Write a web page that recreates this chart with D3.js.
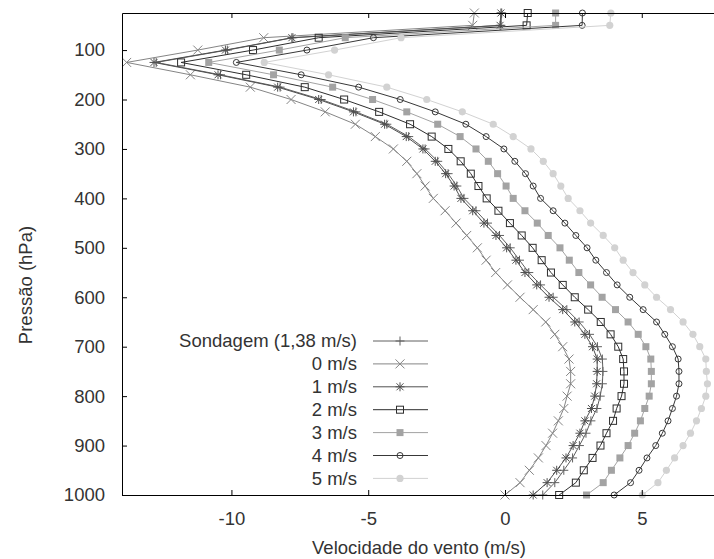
<!DOCTYPE html>
<html>
<head>
<meta charset="utf-8">
<script src="https://cdn.jsdelivr.net/npm/d3@7"></script>
<style>
  body { margin: 0; background: #fff; }
  svg { display: block; font-family: "Liberation Sans", Arial, sans-serif; }
  .axis text { font-size: 18.5px; fill: #333; }
  .axis path, .axis line { stroke: #000; }
</style>
</head>
<body>
<div id="chart"></div>
<script>
// níveis de pressão (hPa)
const niveis = [25, 50, 75, 100, 125, 150, 175, 200, 225, 250, 275, 300, 325, 350, 375, 400,
  425, 450, 475, 500, 525, 550, 575, 600, 625, 650, 675, 700, 725, 750, 775, 800,
  825, 850, 875, 900, 925, 950, 975, 1000];

const sondagem = [-0.12, -0.15, -7.75, -10.15, -12.75, -10.40, -8.22, -6.72, -5.45, -4.32, -3.52, -2.92,
  -2.46, -2.08, -1.76, -1.50, -1.06, -0.64, -0.20, 0.19, 0.53, 0.87, 1.30, 1.76, 2.26, 2.71, 3.09,
  3.38, 3.56, 3.58, 3.56, 3.48, 3.36, 3.14, 2.96, 2.72, 2.47, 2.15, 1.82, 1.38];
const v0 = [-1.12, -1.18, -8.82, -11.23, -13.83, -11.50, -9.31, -7.82, -6.57, -5.47, -4.74, -4.08,
  -3.59, -3.22, -2.92, -2.62, -2.19, -1.79, -1.40, -1.01, -0.69, -0.34, 0.09, 0.55, 1.03, 1.49, 1.82,
  2.11, 2.34, 2.40, 2.40, 2.27, 2.15, 1.95, 1.74, 1.50, 1.22, 0.89, 0.55, 0.00];
const v1 = [-0.15, -0.18, -7.79, -10.22, -12.83, -10.49, -8.31, -6.81, -5.54, -4.40, -3.61, -3.00,
  -2.55, -2.17, -1.86, -1.61, -1.18, -0.77, -0.33, 0.06, 0.40, 0.73, 1.16, 1.61, 2.11, 2.55, 2.92,
  3.20, 3.37, 3.37, 3.35, 3.28, 3.16, 2.92, 2.74, 2.49, 2.23, 1.89, 1.54, 1.03];
const v2 = [0.83, 0.79, -6.81, -9.21, -11.84, -9.46, -7.32, -5.88, -4.60, -3.47, -2.68, -2.07,
  -1.62, -1.25, -0.97, -0.67, -0.24, 0.18, 0.61, 1.01, 1.34, 1.68, 2.11, 2.55, 3.04, 3.50, 3.86,
  4.14, 4.32, 4.35, 4.35, 4.26, 4.08, 3.95, 3.71, 3.49, 3.20, 2.88, 2.59, 1.98];
const v3 = [1.85, 1.85, -5.84, -8.25, -10.83, -8.46, -6.30, -4.84, -3.59, -2.46, -1.64, -1.06,
  -0.61, -0.27, 0.04, 0.30, 0.73, 1.18, 1.58, 2.01, 2.35, 2.70, 3.13, 3.55, 4.04, 4.50, 4.87,
  5.15, 5.33, 5.35, 5.35, 5.27, 5.11, 4.95, 4.74, 4.50, 4.20, 3.89, 3.59, 2.98];
const v4 = [2.83, 2.82, -4.81, -7.24, -9.82, -7.45, -5.35, -3.83, -2.55, -1.43, -0.69, -0.04,
  0.36, 0.75, 1.03, 1.30, 1.76, 2.19, 2.59, 3.00, 3.32, 3.71, 4.10, 4.56, 5.05, 5.54, 5.84,
  6.12, 6.33, 6.36, 6.36, 6.27, 6.12, 5.96, 5.75, 5.51, 5.19, 4.90, 4.59, 3.99];
const v5 = [3.87, 3.83, -3.80, -6.23, -8.80, -6.45, -4.32, -2.86, -1.56, -0.43, 0.30, 0.95,
  1.40, 1.76, 2.04, 2.31, 2.74, 3.13, 3.59, 4.01, 4.32, 4.68, 5.11, 5.54, 6.05, 6.51, 6.87,
  7.12, 7.34, 7.36, 7.40, 7.34, 7.18, 7.00, 6.78, 6.51, 6.20, 5.90, 5.59, 5.02];

const rotulos = ['Sondagem (1,38 m/s)', '0 m/s', '1 m/s', '2 m/s', '3 m/s', '4 m/s', '5 m/s'];
const xTicks = [-10, -5, 0, 5];
const yTicks = [100, 200, 300, 400, 500, 600, 700, 800, 900, 1000];

const series = [
  { nome: rotulos[0], valores: sondagem, cor: '#606060', ponto: 'plus' },
  { nome: rotulos[1], valores: v0, cor: '#858585', ponto: 'cross' },
  { nome: rotulos[2], valores: v1, cor: '#505050', ponto: 'star' },
  { nome: rotulos[3], valores: v2, cor: '#2e2e2e', ponto: 'box' },
  { nome: rotulos[4], valores: v3, cor: '#a3a3a3', ponto: 'fbox' },
  { nome: rotulos[5], valores: v4, cor: '#383838', ponto: 'circle' },
  { nome: rotulos[6], valores: v5, cor: '#d2d2d2', ponto: 'fcircle' }
];

const W = 714, H = 559;
const svg = d3.select('#chart').append('svg').attr('width', W).attr('height', H);

const x = d3.scaleLinear().domain([-14, 7.64]).range([122, 714]);
const y = d3.scaleLinear().domain([25, 1000]).range([13, 495]);

// desenha um marcador no estilo do gnuplot
function marcador(g, tipo, cx, cy, cor) {
  const s = 4.5;
  if (tipo === 'plus' || tipo === 'star') {
    g.append('path').attr('d', `M${cx - s},${cy}H${cx + s}M${cx},${cy - s}V${cy + s}`)
      .attr('stroke', cor).attr('fill', 'none');
  }
  if (tipo === 'cross' || tipo === 'star') {
    const c = tipo === 'star' ? 3.5 : 4.5;
    g.append('path').attr('d', `M${cx - c},${cy - c}L${cx + c},${cy + c}M${cx - c},${cy + c}L${cx + c},${cy - c}`)
      .attr('stroke', cor).attr('fill', 'none');
  }
  if (tipo === 'box') {
    g.append('rect').attr('x', cx - 3.5).attr('y', cy - 3.5).attr('width', 7).attr('height', 7)
      .attr('stroke', cor).attr('fill', 'none');
  }
  if (tipo === 'fbox') {
    g.append('rect').attr('x', cx - 3.5).attr('y', cy - 3.5).attr('width', 7).attr('height', 7)
      .attr('fill', cor);
  }
  if (tipo === 'circle') {
    g.append('circle').attr('cx', cx).attr('cy', cy).attr('r', 3)
      .attr('stroke', cor).attr('fill', 'none');
  }
  if (tipo === 'fcircle') {
    g.append('circle').attr('cx', cx).attr('cy', cy).attr('r', 3.6).attr('fill', cor);
  }
}

// curvas
const linha = d3.line().x(d => x(d[0])).y(d => y(d[1]));
series.forEach(s => {
  const pts = s.valores.map((v, i) => [v, niveis[i]]);
  const g = svg.append('g');
  g.append('path').datum(pts).attr('d', linha)
    .attr('fill', 'none').attr('stroke', s.cor).attr('stroke-width', 1);
  pts.forEach(p => marcador(g, s.ponto, x(p[0]), y(p[1]), s.cor));
});

// eixos
svg.append('g').attr('class', 'axis').attr('transform', 'translate(122,0)')
  .call(d3.axisLeft(y).tickValues(yTicks).tickSizeInner(-5).tickSizeOuter(0).tickPadding(17)
    .tickFormat(d3.format('d')));
svg.append('g').attr('class', 'axis').attr('transform', 'translate(0,495)')
  .call(d3.axisBottom(x).tickValues(xTicks).tickSizeInner(-5).tickSizeOuter(0).tickPadding(17)
    .tickFormat(d => d < 0 ? '-' + Math.abs(d) : d));
svg.append('g').attr('class', 'axis').attr('transform', 'translate(0,13)')
  .call(d3.axisTop(x).tickValues(xTicks).tickSizeInner(-5).tickSizeOuter(0).tickFormat(''));
svg.selectAll('.axis').attr('font-family', null).attr('font-size', null);

// títulos
svg.append('text').attr('x', 419).attr('y', 554).attr('text-anchor', 'middle')
  .style('font-size', '18.5px').style('fill', '#333').text('Velocidade do vento (m/s)');
svg.append('text').attr('transform', 'translate(32,285) rotate(-90)').attr('text-anchor', 'middle')
  .style('font-size', '18.5px').style('fill', '#333').text('Pressão (hPa)');

// legenda
const leg = svg.append('g');
series.forEach((s, i) => {
  const ly = 341 + i * 22.9;
  leg.append('text').attr('x', 357).attr('y', ly).attr('dy', '0.35em').attr('text-anchor', 'end')
    .style('font-size', '18.5px').style('fill', '#333').text(s.nome);
  leg.append('line').attr('x1', 373).attr('x2', 428).attr('y1', ly).attr('y2', ly)
    .attr('stroke', s.cor);
  marcador(leg, s.ponto, 400, ly, s.cor);
});
</script>
</body>
</html>
